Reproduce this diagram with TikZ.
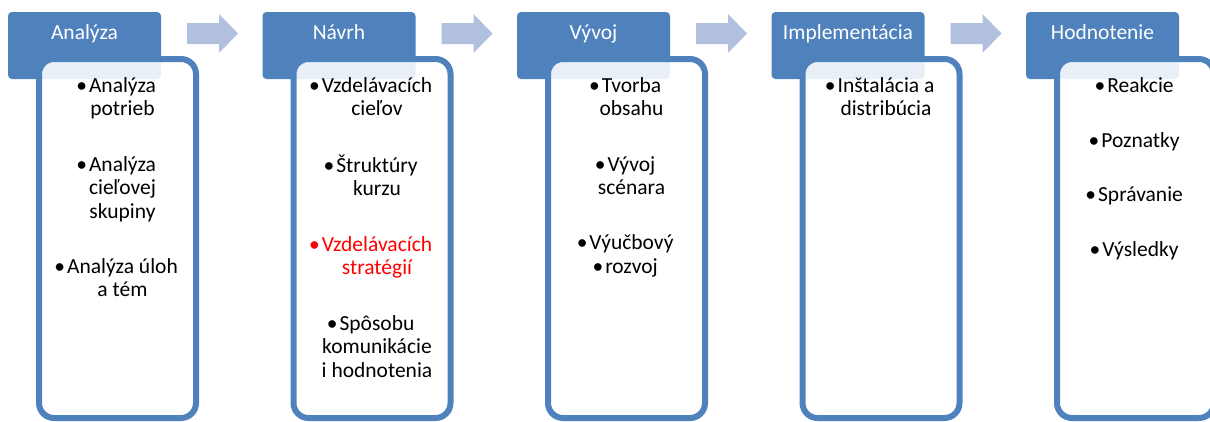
\documentclass[tikz,border=0pt]{standalone}
\usepackage{fontspec}
\setmainfont{Carlito}
\usetikzlibrary{positioning}

\definecolor{hblue}{RGB}{79,129,189}
\definecolor{arrowblue}{RGB}{176,192,222}
\definecolor{itmred}{RGB}{255,0,0}

\newcommand{\bl}{\llap{\textbullet\kern2pt}}

\tikzset{
  hdr/.style={fill=hblue, rounded corners=4pt, minimum width=153pt, minimum height=67pt,
    inner sep=0pt, text height=27pt, text depth=40pt, text=white,
    font=\fontsize{21.5}{23.5}\selectfont},
  bodybox/.style={draw=hblue, line width=6pt, rounded corners=15pt, fill=white,
    fill opacity=0.875, minimum width=157pt, minimum height=359pt, inner sep=0pt, outer sep=0pt},
  itm/.style={align=center, inner sep=0pt, font=\fontsize{21.5}{23.5}\selectfont},
  stepper/.style={fill=arrowblue}
}

\begin{document}
\begin{tikzpicture}[x=1pt, y=-1pt]
\clip (0,0) rectangle (1210,421);
\useasboundingbox (0,0) rectangle (1210,421);

% headers
\node[hdr] (hd1) at (84.5,45.5) {Analýza};
\node[hdr] (hd2) at (339,45.5) {Návrh};
\node[hdr] (hd3) at (593.5,45.5) {Vývoj};
\node[hdr] (hd4) at (848,45.5) {Implementácia};
\node[hdr] (hd5) at (1102.5,45.5) {Hodnotenie};

% arrows between the steps
\foreach \i in {0,...,3}
  \fill[stepper, xshift=\i*254.5pt] (187,23) -- (219,23) -- (219,14) -- (238,33.5)
    -- (219,53) -- (219,44) -- (187,44) -- cycle;

% content boxes
\node[bodybox] (bx1) at (117.5,238.5) {};
\node[bodybox] (bx2) at (372,238.5) {};
\node[bodybox] (bx3) at (626.5,238.5) {};
\node[bodybox] (bx4) at (881,238.5) {};
\node[bodybox] (bx5) at (1135.5,238.5) {};

% Analyza
\node[itm, below=16.5pt of bx1.north, xshift=5pt] (a1) {\strut\bl Analýza\\\strut potrieb};
\node[itm, below=31.5pt of a1] (a2) {\strut\bl Analýza\\\strut cieľovej\\\strut skupiny};
\node[itm, below=31.5pt of a2] (a3) {\strut\bl Analýza úloh\\\strut a tém};

% Navrh
\node[itm, below=16.5pt of bx2.north, xshift=5pt] (b1) {\strut\bl Vzdelávacích\\\strut cieľov};
\node[itm, below=31.5pt of b1] (b2) {\strut\bl Štruktúry\\\strut kurzu};
\node[itm, below=31.5pt of b2, text=itmred] (b3) {\strut\bl Vzdelávacích\\\strut stratégií};
\node[itm, below=31.5pt of b3] (b4) {\strut\bl Spôsobu\\\strut komunikácie\\\strut i hodnotenia};

% Vyvoj
\node[itm, below=16.5pt of bx3.north, xshift=5pt] (c1) {\strut\bl Tvorba\\\strut obsahu};
\node[itm, below=31.5pt of c1] (c2) {\strut\bl Vývoj\\\strut scénara};
\node[itm, below=31.5pt of c2] (c3) {\strut\bl Výučbový\\\strut\bl rozvoj};

% Implementacia
\node[itm, below=16.5pt of bx4.north, xshift=5pt] (d1) {\strut\bl Inštalácia a\\\strut distribúcia};

% Hodnotenie
\node[itm, below=16.5pt of bx5.north, xshift=5pt] (e1) {\strut\bl Reakcie};
\node[itm, below=31pt of e1] (e2) {\strut\bl Poznatky};
\node[itm, below=31pt of e2] (e3) {\strut\bl Správanie};
\node[itm, below=31pt of e3] (e4) {\strut\bl Výsledky};
\end{tikzpicture}
\end{document}
